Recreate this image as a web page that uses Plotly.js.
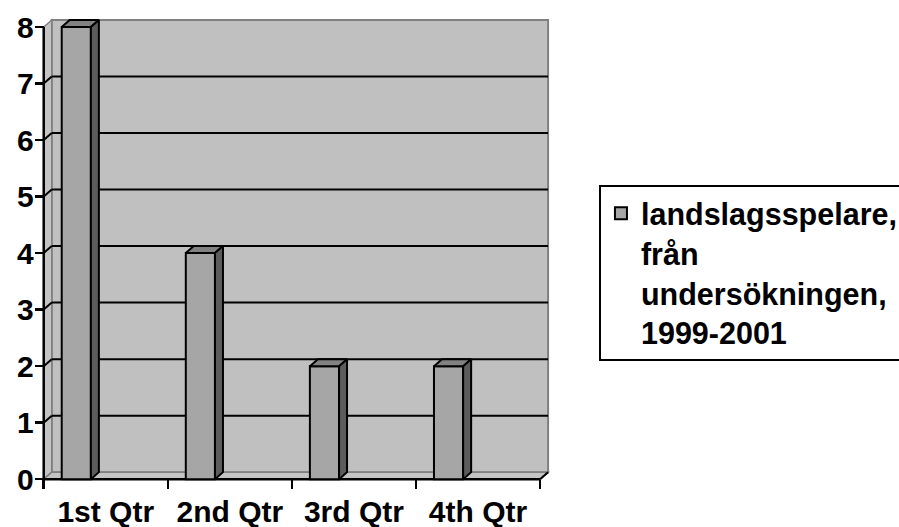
<!DOCTYPE html>
<html><head><meta charset="utf-8">
<script src="https://cdn.plot.ly/plotly-3.0.1.min.js"></script>
<style>html,body{margin:0;padding:0;background:#fff}#chart{width:899px;height:527px}</style>
</head><body><div id="chart"></div>
<script>
// ---- data ----
const categories = ['1st Qtr', '2nd Qtr', '3rd Qtr', '4th Qtr'];
const values = [8, 4, 2, 2];
const seriesName = 'landslagsspelare,<br>från<br>undersökningen,<br>1999-2001';
const yTicks = [0, 1, 2, 3, 4, 5, 6, 7, 8];

// ---- 3D styling constants ----
const DX = 0.0645, DY = 0.124;       // depth offset in data units
const BAR_OFF = 0.145, BAR_W = 0.235; // bar placement inside slot
const FONT = {family: 'Liberation Sans, Arial, sans-serif', size: 30, color: '#000', weight: 'bold'};
const LFONT = {family: 'Liberation Sans, Arial, sans-serif', size: 30.5, color: '#000', weight: 'bold'};

const xc = categories.map((c, i) => i + 0.5);
const nCat = categories.length;
const yMax = yTicks[yTicks.length - 1];

const topX = [], topY = [], sideX = [], sideY = [];
values.forEach((v, i) => {
  const L = i + BAR_OFF, R = L + BAR_W;
  topX.push(L, R, R + DX, L + DX, L, null);
  topY.push(v, v, v + DY, v + DY, v, null);
  sideX.push(R, R + DX, R + DX, R, R, null);
  sideY.push(0, DY, v + DY, v, 0, null);
});

const traces = [
  {type: 'bar', x: xc, y: values, width: BAR_W, offset: BAR_OFF - 0.5, name: seriesName,
   marker: {color: '#A6A6A6', line: {color: '#000', width: 2}}, hoverinfo: 'y', showlegend: true},
  {type: 'scatter', x: topX, y: topY, mode: 'lines', fill: 'toself', fillcolor: '#828282',
   line: {color: '#000', width: 2}, showlegend: false, hoverinfo: 'skip'},
  {type: 'scatter', x: sideX, y: sideY, mode: 'lines', fill: 'toself', fillcolor: '#5C5C5C',
   line: {color: '#000', width: 2}, showlegend: false, hoverinfo: 'skip'}
];

const shapes = [];
// back wall
shapes.push({type: 'rect', layer: 'below', xref: 'x', yref: 'y', x0: DX, x1: nCat + DX, y0: DY, y1: yMax + DY,
  fillcolor: '#C0C0C0', line: {color: '#808080', width: 2}});
// left side wall
shapes.push({type: 'path', layer: 'below', xref: 'x', yref: 'y',
  path: `M0,0 L0,${yMax} L${DX},${yMax + DY} L${DX},${DY} Z`,
  fillcolor: '#C4C4C4', line: {color: '#808080', width: 1.5}});
// floor
shapes.push({type: 'path', layer: 'below', xref: 'x', yref: 'y',
  path: `M0,0 L${nCat},0 L${nCat + DX},${DY} L${DX},${DY} Z`,
  fillcolor: '#C4C4C4', line: {color: '#808080', width: 1.5}});
// gridlines
yTicks.filter(k => k > 0 && k < yMax).forEach(k => {
  shapes.push({type: 'line', layer: 'below', xref: 'x', yref: 'y', x0: DX, x1: nCat + DX, y0: k + DY, y1: k + DY,
    line: {color: '#000', width: 2}});
  shapes.push({type: 'line', layer: 'below', xref: 'x', yref: 'y', x0: 0, x1: DX, y0: k, y1: k + DY,
    line: {color: '#000', width: 2}});
});
// axis lines
shapes.push({type: 'line', layer: 'below', xref: 'x', yref: 'y', x0: 0, x1: 0, y0: 0, y1: yMax, line: {color: '#000', width: 2.5}});
shapes.push({type: 'line', layer: 'below', xref: 'x', yref: 'y', x0: 0, x1: nCat, y0: 0, y1: 0, line: {color: '#000', width: 2.5}});
shapes.push({type: 'line', layer: 'below', xref: 'x', yref: 'y', x0: nCat, x1: nCat + DX, y0: 0, y1: DY, line: {color: '#000', width: 2}});

const xr = [-0.03, 4.08], yr = [-0.05, 8.16];

const layout = {
  width: 899, height: 527,
  margin: {l: 40, r: 349, t: 18, b: 45, autoexpand: false},
  paper_bgcolor: '#fff', plot_bgcolor: 'rgba(0,0,0,0)',
  showlegend: true,
  font: FONT,
  xaxis: {range: xr, tickmode: 'array', tickvals: xc, ticktext: categories, ticks: '',
    showgrid: false, zeroline: false, showline: false, anchor: 'free', automargin: false,
    position: (0 - yr[0]) / (yr[1] - yr[0]), tickfont: FONT, fixedrange: true, ticklabelstandoff: 12,
    minor: {tickmode: 'linear', tick0: 0, dtick: 1, ticks: 'outside', ticklen: 9, tickwidth: 2.5, tickcolor: '#000', showgrid: false}},
  yaxis: {range: yr, tickmode: 'array', tickvals: yTicks, ticks: 'outside', ticklen: 9, tickwidth: 2.5, tickcolor: '#000',
    showgrid: false, zeroline: false, showline: false, anchor: 'free', automargin: false,
    position: (0 - xr[0]) / (xr[1] - xr[0]), tickfont: FONT, fixedrange: true, ticklabelstandoff: -5},
  legend: {x: 1.096, y: 0.640, xanchor: 'left', yanchor: 'top', bgcolor: '#fff', bordercolor: '#000', borderwidth: 2,
    font: LFONT, valign: 'top', itemclick: false},
  shapes: shapes
};

Plotly.newPlot('chart', traces, layout, {displayModeBar: false, staticPlot: true});
</script>
</body></html>
